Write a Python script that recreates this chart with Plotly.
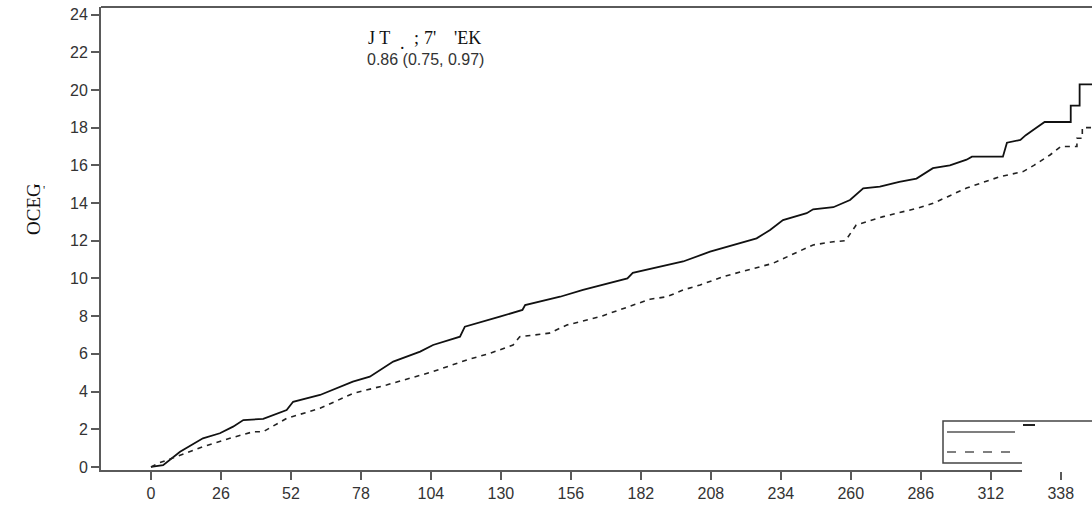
import plotly.graph_objects as go

# ---- data ----
solid_x = [0, 4.5, 10.8, 19.3, 25.6, 30.5, 34.3, 41.7, 50.4, 52.8, 62.8, 75, 81.3, 90, 100,
           104.8, 114.8, 116.6, 129.6, 138, 139, 152, 160.5, 173, 177, 179, 191.7, 197.7,
           207.7, 225, 230, 234.8, 243.6, 246, 253.5, 259.7, 264.6, 270.8, 278, 284.4,
           290.5, 296.8, 303, 305, 316.5, 318, 323, 325, 328, 332, 341.7, 341.7, 345, 345, 350]
solid_y = [0, 0.1, 0.81, 1.52, 1.79, 2.14, 2.49, 2.55, 3.02, 3.46, 3.82, 4.53, 4.79, 5.59, 6.12,
           6.47, 6.91, 7.44, 7.97, 8.33, 8.59, 9.03, 9.39, 9.83, 10.0, 10.3, 10.7, 10.9,
           11.42, 12.13, 12.57, 13.1, 13.46, 13.67, 13.78, 14.16, 14.78, 14.87, 15.13, 15.3,
           15.85, 16.0, 16.3, 16.46, 16.46, 17.2, 17.35, 17.6, 17.9, 18.3, 18.3, 19.17, 19.17, 20.3, 20.3]

dashed_x = [0, 3.3, 9.5, 19.3, 29.3, 38, 41.7, 50.4, 62.8, 75, 87.5, 96.2, 104.8, 117.4, 126,
            134.5, 137, 148, 154.5, 166.8, 179, 185.4, 191.7, 197.7, 204, 212.6, 231, 246,
            253.5, 258, 262, 272, 284.5, 290.6, 296, 303, 315.4, 324, 328, 334, 338, 344, 344,
            346, 346, 350]
dashed_y = [0, 0.23, 0.55, 1.08, 1.52, 1.87, 1.87, 2.58, 3.11, 3.9, 4.35, 4.7, 5.06, 5.68, 6.03,
            6.47, 6.91, 7.1, 7.53, 7.97, 8.59, 8.9, 9.03, 9.39, 9.65, 10.1, 10.8, 11.78,
            11.95, 12.0, 12.84, 13.28, 13.72, 13.99, 14.34, 14.8, 15.4, 15.67, 16.0, 16.55, 17.0, 17.0, 17.44,
            17.44, 18.0, 18.0]

x_ticks = [0, 26, 52, 78, 104, 130, 156, 182, 208, 234, 260, 286, 312, 338]
y_ticks = [0, 2, 4, 6, 8, 10, 12, 14, 16, 18, 20, 22, 24]

title_parts = ["J T", ".", ";", "7'", "'EK"]
title_line2 = "0.86 (0.75, 0.97)"
y_title = "OCEG"

# ---- layout geometry (pixels) ----
W_PX, H_PX = 1092, 508
L, R, T, B = 101, 1092, 7, 470
PW, PH = R - L, B - T


def px(xp):
    return (xp - L) / PW


def py(yp):
    return (B - yp) / PH


fig = go.Figure()
fig.add_trace(go.Scatter(x=solid_x, y=solid_y, mode="lines",
                         line=dict(color="#111111", width=1.8), showlegend=False))
fig.add_trace(go.Scatter(x=dashed_x, y=dashed_y, mode="lines",
                         line=dict(color="#222222", width=1.6, dash="5px,5px"), showlegend=False))

axis_col = "#5a5a5a"
tick_font = dict(family="Liberation Sans, Arial, sans-serif", size=16, color="#333333")

fig.update_xaxes(range=[-18.57, 349.6], tickvals=x_ticks, ticktext=[str(v) for v in x_ticks],
                 showline=True, linecolor=axis_col, linewidth=2, ticks="outside", ticklen=8,
                 tickcolor=axis_col, tickwidth=1.5, showgrid=False, zeroline=False,
                 tickfont=tick_font)
fig.update_yaxes(range=[-0.16, 24.40], tickvals=y_ticks, ticktext=[str(v) for v in y_ticks],
                 showline=True, linecolor=axis_col, linewidth=2, ticks="outside", ticklen=8,
                 tickcolor=axis_col, tickwidth=1.5, showgrid=False, zeroline=False,
                 tickfont=tick_font)

shapes = [
    dict(type="line", xref="paper", yref="paper", x0=0, x1=1, y0=1, y1=1,
         line=dict(color=axis_col, width=2)),
    dict(type="rect", xref="paper", yref="paper", x0=px(943), x1=px(1100), y0=py(463), y1=py(421),
         line=dict(color="#444444", width=1.5), fillcolor="white"),
    dict(type="line", xref="paper", yref="paper", x0=px(947), x1=px(1015), y0=py(432), y1=py(432),
         line=dict(color="#555555", width=1.5)),
    dict(type="line", xref="paper", yref="paper", x0=px(947), x1=px(1010), y0=py(452), y1=py(452),
         line=dict(color="#555555", width=1.5, dash="dash")),
    dict(type="rect", xref="paper", yref="paper", x0=px(1022), x1=px(1100), y0=py(472), y1=py(462),
         line=dict(width=0), fillcolor="white", layer="above"),
    dict(type="line", xref="paper", yref="paper", x0=px(1023), x1=px(1035), y0=py(425), y1=py(425),
         line=dict(color="#222222", width=2)),
]

serif = "Liberation Serif, Times New Roman, serif"
title_pos = [(379, 38), (402, 43), (416, 38), (430, 38), (467, 38)]
annotations = []
for txt, (ax_, ay_) in zip(title_parts, title_pos):
    annotations.append(dict(text=txt, xref="paper", yref="paper", x=px(ax_), y=py(ay_),
                            showarrow=False, font=dict(family=serif, size=18, color="#111111"),
                            xanchor="center", yanchor="middle"))
annotations += [
    dict(text=title_line2, xref="paper", yref="paper", x=px(425), y=py(59),
         showarrow=False, font=dict(family="Liberation Sans, Arial, sans-serif", size=16, color="#333333"),
         xanchor="center", yanchor="middle"),
    dict(text=y_title, xref="paper", yref="paper", x=px(33), y=py(209), textangle=-90,
         showarrow=False, font=dict(family=serif, size=19, color="#111111"),
         xanchor="center", yanchor="middle"),
    dict(text="'", xref="paper", yref="paper", x=px(44), y=py(190),
         showarrow=False, font=dict(family=serif, size=12, color="#222222"),
         xanchor="center", yanchor="middle"),
]

fig.update_layout(width=W_PX, height=H_PX, margin=dict(l=L, r=W_PX - R, t=T, b=H_PX - B),
                  paper_bgcolor="white", plot_bgcolor="white",
                  shapes=shapes, annotations=annotations, showlegend=False)

fig.write_html("out.html", config={"displayModeBar": False},
               post_script="document.body.style.margin='0px';document.body.style.overflow='hidden';")
